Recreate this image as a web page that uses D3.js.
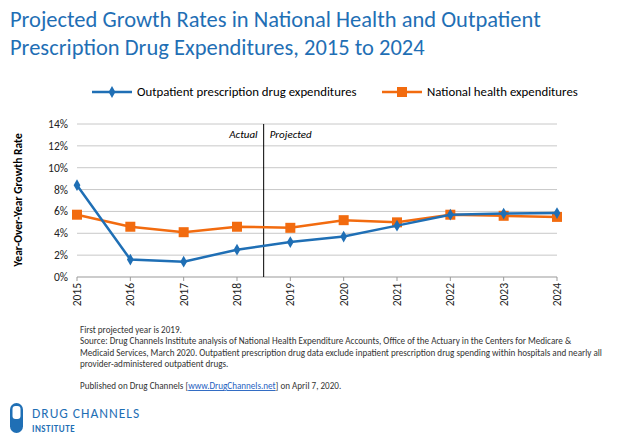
<!DOCTYPE html>
<html><head><meta charset="utf-8">
<script src="https://cdn.jsdelivr.net/npm/d3@7"></script>
<style>body{margin:0;background:#fff}text{font-family:Calibri,Carlito,Lato,sans-serif}</style>
</head><body>
<svg id="c" width="640" height="435"></svg>
<script>
const years = [2015,2016,2017,2018,2019,2020,2021,2022,2023,2024];
const rxSeries = [8.4,1.6,1.4,2.5,3.2,3.7,4.7,5.7,5.8,5.85];
const nheSeries = [5.7,4.6,4.1,4.6,4.5,5.2,5.0,5.7,5.6,5.5];
const yTicks = [0,2,4,6,8,10,12,14];

const svg = d3.select("#c");
const blue = "#1f6fb5", orange = "#f26b0f";
const x = d3.scaleLinear().domain([2015,2024]).range([77,557]);
const y = d3.scaleLinear().domain([0,14]).range([277,124]);

svg.append("text").attr("x",10).attr("y",27).attr("fill",blue).attr("font-size",22.5)
  .text("Projected Growth Rates in National Health and Outpatient");
svg.append("text").attr("x",10).attr("y",55).attr("fill",blue).attr("font-size",22.5)
  .text("Prescription Drug Expenditures, 2015 to 2024");

// grid
svg.append("g").selectAll("line").data(yTicks.slice(1)).join("line")
  .attr("x1",77).attr("x2",557).attr("y1",d=>y(d)).attr("y2",d=>y(d))
  .attr("stroke","#c8c8c8");
svg.append("g").selectAll("text").data(yTicks).join("text")
  .attr("x",68).attr("y",d=>y(d)+4).attr("text-anchor","end").attr("font-size",11.5)
  .attr("fill","#222").text(d=>d+"%");
svg.append("line").attr("x1",77).attr("x2",557).attr("y1",y(0)).attr("y2",y(0)).attr("stroke","#999");
svg.append("g").selectAll("line").data(years).join("line")
  .attr("x1",d=>x(d)).attr("x2",d=>x(d)).attr("y1",y(0)).attr("y2",y(0)+4).attr("stroke","#999");
svg.append("g").selectAll("text").data(years).join("text")
  .attr("transform",d=>`translate(${x(d)+4},${y(0)+6}) rotate(-90)`)
  .attr("text-anchor","end").attr("font-size",11.5).attr("fill","#222").text(d=>d);

svg.append("text").attr("transform","translate(22,200) rotate(-90)").attr("text-anchor","middle")
  .attr("font-size",11.5).attr("font-weight","bold").text("Year-Over-Year Growth Rate");

// actual / projected divider
const xd = x(2018.5);
svg.append("line").attr("x1",xd).attr("x2",xd).attr("y1",y(14)).attr("y2",y(0)).attr("stroke","#000");
svg.append("text").attr("x",xd-6).attr("y",138).attr("text-anchor","end").attr("font-size",11)
  .attr("font-style","italic").text("Actual");
svg.append("text").attr("x",xd+6).attr("y",138).attr("font-size",11)
  .attr("font-style","italic").text("Projected");

const line = d3.line().x((d,i)=>x(years[i])).y(d=>y(d));
svg.append("path").datum(nheSeries).attr("d",line).attr("fill","none").attr("stroke",orange).attr("stroke-width",2.5);
svg.append("g").selectAll("rect").data(nheSeries).join("rect")
  .attr("x",(d,i)=>x(years[i])-5).attr("y",d=>y(d)-5).attr("width",10).attr("height",10).attr("fill",orange);
svg.append("path").datum(rxSeries).attr("d",line).attr("fill","none").attr("stroke",blue).attr("stroke-width",2.5);
const diamond = d3.symbol().type(d3.symbolDiamond).size(40);
svg.append("g").selectAll("path").data(rxSeries).join("path")
  .attr("d",diamond).attr("transform",(d,i)=>`translate(${x(years[i])},${y(d)})`).attr("fill",blue);

// legend
svg.append("line").attr("x1",92).attr("x2",132).attr("y1",92).attr("y2",92).attr("stroke",blue).attr("stroke-width",2.5);
svg.append("path").attr("d",diamond).attr("transform","translate(112,92)").attr("fill",blue);
svg.append("text").attr("x",137).attr("y",96).attr("font-size",12.8).text("Outpatient prescription drug expenditures");
svg.append("line").attr("x1",382).attr("x2",422).attr("y1",92).attr("y2",92).attr("stroke",orange).attr("stroke-width",2.5);
svg.append("rect").attr("x",397).attr("y",87).attr("width",10).attr("height",10).attr("fill",orange);
svg.append("text").attr("x",427).attr("y",96).attr("font-size",12.8).text("National health expenditures");

// notes
const notes = ["First projected year is 2019.",
 "Source: Drug Channels Institute analysis of National Health Expenditure Accounts, Office of the Actuary in the Centers for Medicare &",
 "Medicaid Services, March 2020. Outpatient prescription drug data exclude inpatient prescription drug spending within hospitals and nearly all",
 "provider-administered outpatient drugs."];
svg.append("g").selectAll("text").data(notes).join("text")
  .attr("x",80).attr("y",(d,i)=>333+i*11.3).attr("font-size",9.1).attr("fill","#333").text(d=>d);
const pub = svg.append("text").attr("x",80).attr("y",389).attr("font-size",9.1).attr("fill","#333");
pub.append("tspan").text("Published on Drug Channels [");
pub.append("tspan").attr("fill","#1f5fbf").attr("text-decoration","underline").text("www.DrugChannels.net");
pub.append("tspan").text("] on April 7, 2020.");

// logo
svg.append("rect").attr("x",10).attr("y",403).attr("width",13).attr("height",30).attr("rx",6.5).attr("fill",blue);
svg.append("rect").attr("x",12.5).attr("y",406).attr("width",8).attr("height",13).attr("rx",3).attr("fill","#fff");
svg.append("text").attr("x",32).attr("y",418).attr("font-size",13.5).attr("fill",blue)
  .attr("letter-spacing",1).attr("font-family","'Open Sans',sans-serif").text("DRUG CHANNELS");
svg.append("text").attr("x",32).attr("y",432).attr("font-size",9).attr("font-weight","bold").attr("fill",blue)
  .attr("letter-spacing",0.5).attr("font-family","'Open Sans',sans-serif").text("INSTITUTE");
</script>
</body></html>
